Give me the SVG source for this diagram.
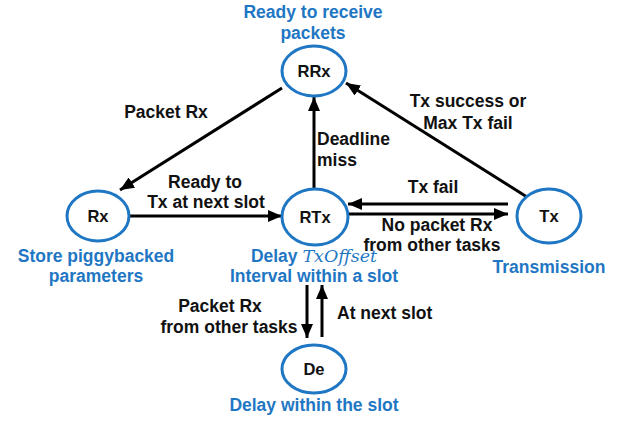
<svg xmlns="http://www.w3.org/2000/svg" width="623" height="422" viewBox="0 0 623 422">
<style>
.node{fill:#fff;stroke:#1f77c4;stroke-width:3}
.nt{font-family:"Liberation Sans",Arial,sans-serif;font-weight:bold;font-size:16.5px;fill:#111;text-anchor:middle}
.bl{font-family:"Liberation Sans",Arial,sans-serif;font-weight:bold;font-size:17.5px;fill:#1f77c4;text-anchor:middle}
.lb{font-family:"Liberation Sans",Arial,sans-serif;font-weight:bold;font-size:17.5px;fill:#111;text-anchor:middle}
.st{text-anchor:start}
.edge{stroke:#000;stroke-width:3;fill:none;marker-end:url(#ah)}
</style>
<defs>
<marker id="ah" markerUnits="userSpaceOnUse" markerWidth="14" markerHeight="12" viewBox="0 0 14 12" refX="14" refY="6" orient="auto">
<path d="M0,0 L14,6 L0,12 z" fill="#000"/>
</marker>
</defs>
<rect width="623" height="422" fill="#fff"/>
<g id="connectors">
<line class="edge" x1="282" y1="88" x2="120" y2="190"/>
<line class="edge" x1="130" y1="216" x2="282" y2="216"/>
<line class="edge" x1="314" y1="188" x2="314" y2="97"/>
<line class="edge" x1="527" y1="197" x2="346" y2="83"/>
<line class="edge" x1="508" y1="204" x2="348" y2="204"/>
<line class="edge" x1="347" y1="214" x2="508" y2="214"/>
<line class="edge" x1="307" y1="285" x2="307" y2="338"/>
<line class="edge" x1="322" y1="337" x2="322" y2="285"/>
<text class="lb" x="166" y="118">Packet Rx</text>
<text class="lb" x="468" y="107">Tx success or</text>
<text class="lb" x="468" y="129">Max Tx fail</text>
<text class="lb st" x="317" y="145">Deadline</text>
<text class="lb st" x="317" y="166">miss</text>
<text class="lb" x="205" y="188">Ready to</text>
<text class="lb" x="206" y="208">Tx at next slot</text>
<text class="lb" x="433" y="193">Tx fail</text>
<text class="lb" x="437" y="231">No packet Rx</text>
<text class="lb" x="432" y="251">from other tasks</text>
<text class="lb" x="220" y="312">Packet Rx</text>
<text class="lb" x="229" y="333">from other tasks</text>
<text class="lb st" x="337" y="319">At next slot</text>
</g>
<g id="RRx">
<ellipse class="node" cx="314" cy="71" rx="32" ry="25"/>
<text class="nt" x="314" y="77">RRx</text>
<text class="bl" x="313" y="18">Ready to receive</text>
<text class="bl" x="313" y="39">packets</text>
</g>
<g id="Rx">
<ellipse class="node" cx="98" cy="216" rx="31" ry="25"/>
<text class="nt" x="98" y="222">Rx</text>
<text class="bl" x="96" y="262">Store piggybacked</text>
<text class="bl" x="96" y="282">parameters</text>
</g>
<g id="RTx">
<ellipse class="node" cx="315" cy="217" rx="33" ry="28"/>
<text class="nt" x="315" y="223">RTx</text>
<text class="bl" x="314" y="262">Delay <tspan style="font-family:'DejaVu Serif',serif;font-style:italic;font-weight:normal">TxOffset</tspan></text>
<text class="bl" x="314" y="282">Interval within a slot</text>
</g>
<g id="Tx">
<ellipse class="node" cx="549" cy="216" rx="32" ry="27"/>
<text class="nt" x="549" y="222">Tx</text>
<text class="bl" x="549" y="273">Transmission</text>
</g>
<g id="De">
<ellipse class="node" cx="314" cy="369" rx="32" ry="24"/>
<text class="nt" x="314" y="375">De</text>
<text class="bl" x="314" y="411">Delay within the slot</text>
</g>
</svg>
